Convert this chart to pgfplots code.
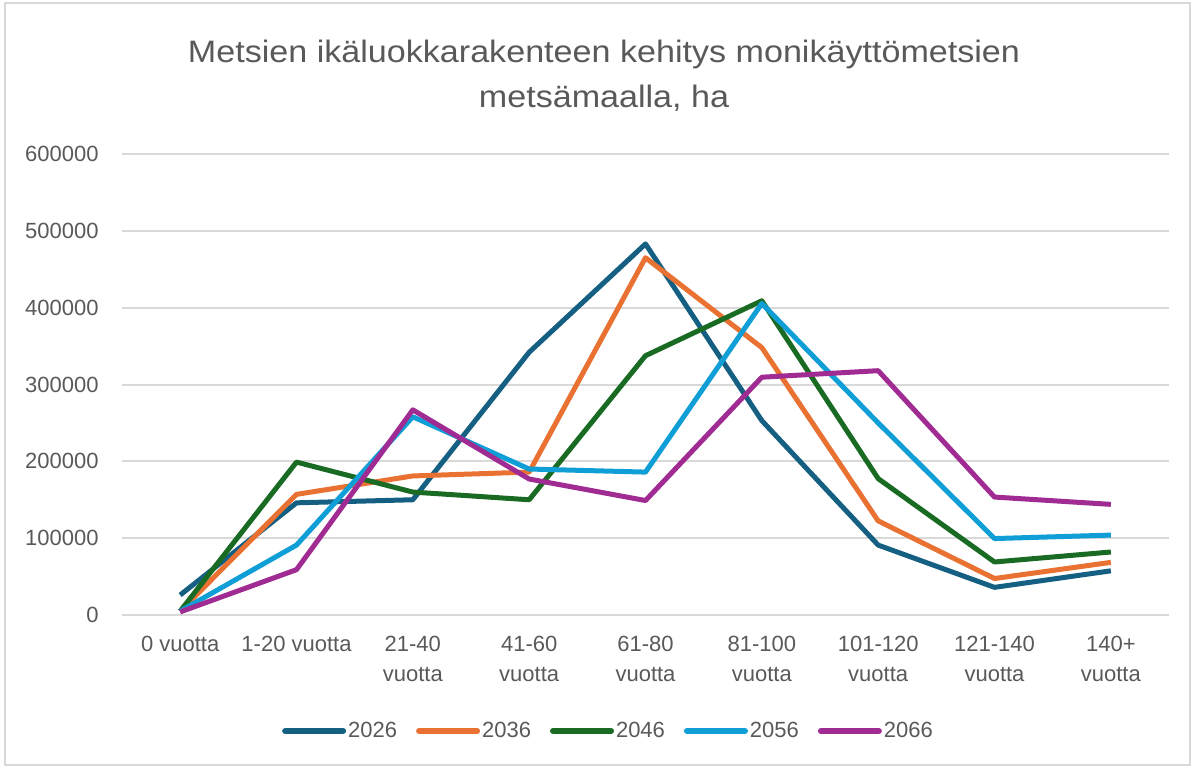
\documentclass[border=0pt]{standalone}
\usepackage{fontspec}
\setmainfont{Liberation Sans}
\newfontfamily\titlefont[FakeStretch=1.1]{Liberation Sans}
\usepackage{pgfplots}
\pgfplotsset{compat=1.18}
\definecolor{cA}{HTML}{156082}
\definecolor{cB}{HTML}{E97132}
\definecolor{cC}{HTML}{196B24}
\definecolor{cD}{HTML}{0F9ED5}
\definecolor{cE}{HTML}{A02B93}
\definecolor{txt}{HTML}{595959}
\definecolor{grd}{HTML}{D9D9D9}
\begin{document}
\begin{tikzpicture}
\path[use as bounding box] (0,0) rectangle (596pt,383.5pt);
\draw[grd, line width=0.8pt] (2.5pt,1pt) rectangle (595pt,382pt);
\node[anchor=base, text=txt, font=\titlefont\fontsize{15.5}{18}\selectfont] at (302pt,352pt) {Metsien ikäluokkarakenteen kehitys monikäyttömetsien};
\node[anchor=base, text=txt, font=\titlefont\fontsize{15.5}{18}\selectfont] at (302pt,329.5pt) {metsämaalla, ha};
\begin{axis}[
  at={(61pt,76pt)}, anchor=south west,
  scale only axis, width=523.5pt, height=230.5pt,
  xmin=-0.5, xmax=8.5, ymin=0, ymax=600000,
  clip=false,
  axis line style={draw=none},
  major tick length=0pt,
  ytick={0,100000,...,600000},
  scaled y ticks=false,
  yticklabel style={/pgf/number format/fixed, /pgf/number format/set thousands separator={}, /pgf/number format/assume math mode=true, font=\fontsize{11}{13}\selectfont, text=txt, inner sep=0pt, xshift=-11.5pt},
  ymajorgrids,
  grid style={grd, line width=1pt},
  xtick={0,...,8},
  xticklabels={0 vuotta,1-20 vuotta,{21-40\\vuotta},{41-60\\vuotta},{61-80\\vuotta},{81-100\\vuotta},{101-120\\vuotta},{121-140\\vuotta},{140+\\vuotta}},
  xticklabel style={align=center, font=\fontsize{11}{15}\selectfont, text=txt, inner sep=0pt, yshift=-10.5pt, anchor=north},
  every axis plot/.append style={line width=2.5pt, line join=round, mark=none},
  legend style={at={(0.4637,-0.2516)}, anchor=center, draw=none, fill=none, legend columns=5, font=\fontsize{11}{13}\selectfont, text=txt, nodes={inner sep=0pt}},
  legend cell align=left,
  /tikz/every even column/.append style={column sep=9.5pt},
  /tikz/every odd column/.append style={column sep=1pt},
  legend image code/.code={\draw[#1, line width=3pt, line cap=round] (0pt,0pt) -- (29pt,0pt);},
]
\addplot[cA] coordinates {(0,26000) (1,146000) (2,150000) (3,342000) (4,483000) (5,253000) (6,91000) (7,36000) (8,57500)};
\addlegendentry{2026}
\addplot[cB] coordinates {(0,5000) (1,157000) (2,181000) (3,186000) (4,465000) (5,348000) (6,122500) (7,47500) (8,68500)};
\addlegendentry{2036}
\addplot[cC] coordinates {(0,5000) (1,199000) (2,160000) (3,150000) (4,337500) (5,409000) (6,177500) (7,69000) (8,82000)};
\addlegendentry{2046}
\addplot[cD] coordinates {(0,5000) (1,91000) (2,258000) (3,190000) (4,186000) (5,405500) (6,250000) (7,99500) (8,104000)};
\addlegendentry{2056}
\addplot[cE] coordinates {(0,4000) (1,59000) (2,267000) (3,177000) (4,149000) (5,309500) (6,318000) (7,153500) (8,144000)};
\addlegendentry{2066}
\end{axis}
\end{tikzpicture}
\end{document}
